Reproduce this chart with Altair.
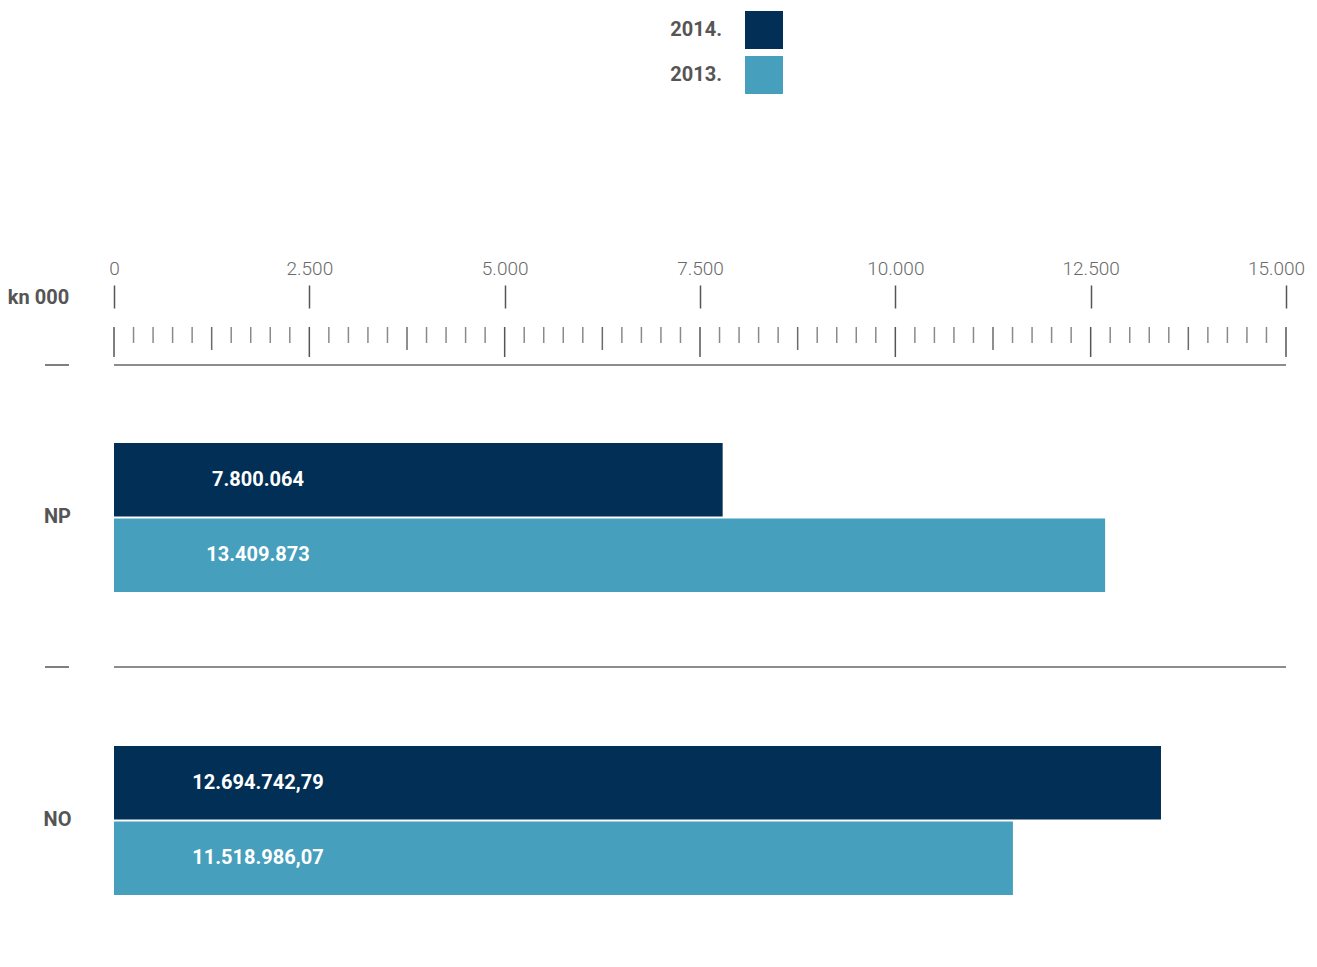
import altair as alt
import pandas as pd

# ---- data (values in kn 000) ----
categories = ["NP", "NO"]
years = ["2014.", "2013."]
bar_2014 = [7790, 13400]
bar_2013 = [12685, 11505]
label_2014 = ["7.800.064", "12.694.742,79"]
label_2013 = ["13.409.873", "11.518.986,07"]

major_ticks = [0, 2500, 5000, 7500, 10000, 12500, 15000]
mid_ticks = [1250, 3750, 6250, 8750, 11250, 13750]
minor_ticks = [v for v in range(0, 15001, 250) if v % 1250 != 0]

NAVY = "#022f56"
TEAL = "#469fbc"
FONT = "Roboto"

rows = []
for i, c in enumerate(categories):
    rows.append({"cat": c, "year": years[0], "value": bar_2014[i], "label": label_2014[i]})
    rows.append({"cat": c, "year": years[1], "value": bar_2013[i], "label": label_2013[i]})
df = pd.DataFrame(rows)

x_scale = alt.Scale(domain=[0, 15000], nice=False, zero=True)
y_scale = alt.Scale(domain=categories, paddingInner=0.5083, paddingOuter=0.1782, align=0.722)

base = alt.Chart(df)

bars = base.mark_bar().encode(
    x=alt.X("value:Q", scale=x_scale, axis=alt.Axis(
        orient="top", offset=57, values=major_ticks, tickSize=23, tickWidth=1.5,
        tickColor="#555555", domain=False, grid=False, title=None,
        labelExpr="replace(format(datum.value, ','), ',', '.')",
        labelFont=FONT, labelFontSize=19, labelFontWeight=300, labelColor="#6a6a6a",
        labelBaseline="alphabetic", labelPadding=11, labelFlush=False,
        labelOffset={"condition": {"test": "datum.value >= 15000", "value": -10}, "value": 0})),
    y=alt.Y("cat:N", sort=categories, scale=y_scale, axis=alt.Axis(
        orient="left", domain=False, ticks=False, grid=False,
        labelAlign="center", labelBaseline="middle", labelPadding=57,
        labelFont=FONT, labelFontSize=20, labelFontWeight="bold", labelColor="#555555",
        title="kn 000", titleAngle=0, titleX=-76, titleY=-68, titleAlign="center",
        titleBaseline="middle", titleFont=FONT, titleFontSize=20,
        titleFontWeight="bold", titleColor="#555555")),
    yOffset=alt.YOffset("year:N", sort=years, scale=alt.Scale(paddingInner=0.025)),
    color=alt.Color("year:N", sort=years, scale=alt.Scale(domain=years, range=[NAVY, TEAL]),
                    legend=alt.Legend(
                        orient="none", legendX=631, legendY=-354, title=None,
                        symbolType="square", symbolSize=1444, symbolStrokeWidth=0,
                        symbolOpacity=1, labelAlign="right", labelOffset={"expr": "-61"},
                        labelBaseline="middle", rowPadding=7,
                        labelFont=FONT, labelFontSize=20, labelFontWeight="bold",
                        labelColor="#555555")),
)

texts = base.mark_text(align="center", baseline="middle", color="white",
                       font=FONT, fontSize=20, fontWeight="bold").encode(
    x=alt.value(144),
    y=alt.Y("cat:N", sort=categories, scale=y_scale),
    yOffset=alt.YOffset("year:N", sort=years, scale=alt.Scale(paddingInner=0.025)),
    text="label:N",
)

def tick_layer(vals, y1, y2, color):
    return alt.Chart(pd.DataFrame({"value": vals})).mark_rule(color=color, strokeWidth=1.5).encode(
        x=alt.X("value:Q", scale=x_scale),
        y=alt.value(y1), y2=alt.value(y2))

minor = tick_layer(minor_ticks, -38, -22, "#8a8a8a")
mid = tick_layer(mid_ticks, -38, -15, "#6a6a6a")
major = tick_layer(major_ticks, -38, -8, "#555555")

def hline(ypix):
    return alt.Chart(pd.DataFrame({"a": [0]})).mark_rule(color="#666666", strokeWidth=1.5).encode(
        x=alt.X(datum=0, scale=x_scale), x2=alt.X2(datum=15000), y=alt.value(ypix))

def dash(ypix):
    return alt.Chart(pd.DataFrame({"a": [0]})).mark_rule(color="#555555", strokeWidth=1.5).encode(
        x=alt.value(-69), x2=alt.value(-45), y=alt.value(ypix))

chart = alt.layer(
    bars, texts, minor, mid, major, hline(0), hline(302), dash(0), dash(302)
).properties(
    width=1172, height=560,
    autosize=alt.AutoSizeParams(type="none"),
    padding={"left": 106, "top": 357, "right": 22, "bottom": 20},
).configure_view(stroke=None)

chart.save("out.html", embed_options={"renderer": "svg", "actions": False})
